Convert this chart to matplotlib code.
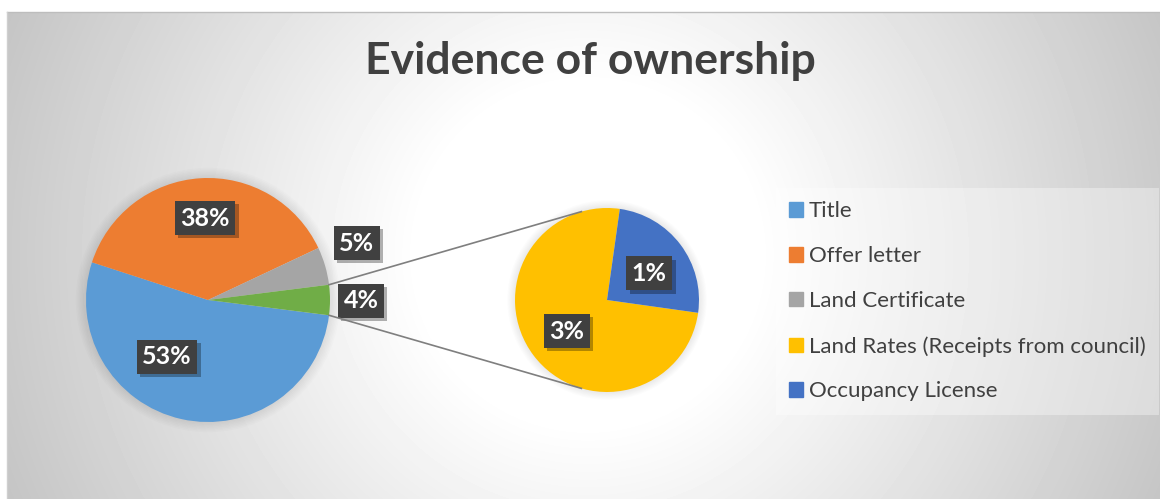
import numpy as np
import matplotlib
matplotlib.use("Agg")
import matplotlib.pyplot as plt
from matplotlib.patches import Circle, Patch
from matplotlib.lines import Line2D
import matplotlib.patheffects as pe

plt.rcParams["font.family"] = ["Lato", "DejaVu Sans"]

title = "Evidence of ownership"

# first pie: main categories, the last two are grouped into "Other"
main_labels = ["Title", "Offer letter", "Land Certificate"]
main_values = [53, 38, 5]
main_colors = ["#5B9BD5", "#ED7D31", "#A5A5A5"]

# second pie: breakdown of the grouped slice
sub_labels = ["Land Rates (Receipts from council)", "Occupancy License"]
sub_values = [3, 1]
sub_colors = ["#FFC000", "#4472C4"]
other_color = "#70AD47"

total = sum(main_values) + sum(sub_values)
other = sum(sub_values)

W, H = 1160, 499
fig = plt.figure(figsize=(W / 100, H / 100), dpi=100)
fig.patch.set_facecolor("white")

# chart area with a radial white-to-grey fill
x0, y0 = 7, 12
bg = fig.add_axes([x0 / W, 0, (W - x0) / W, (H - y0) / H])
gx, gy = np.meshgrid(np.arange(x0, W) + 0.5, np.arange(y0, H) + 0.5)
dist = np.hypot(gx - 588, gy - 255)
t = np.clip((dist - 170) / 460, 0, 1)
shade = 1 - t * (1 - 0.77)
bg.imshow(shade, cmap="gray", vmin=0, vmax=1, aspect="auto",
          extent=(0, 1, 0, 1), interpolation="bilinear")
bg.set_xlim(0, 1)
bg.set_ylim(0, 1)
bg.axis("off")
fig.add_artist(Line2D([x0 / W, 1], [1 - y0 / H, 1 - y0 / H],
                      color="#bdbdbd", lw=1, transform=fig.transFigure))
fig.add_artist(Line2D([x0 / W, x0 / W], [0, 1 - y0 / H],
                      color="#cfcfcf", lw=1, transform=fig.transFigure))

fig.text(590 / W, 1 - 61 / H, title, ha="center", va="center",
         fontsize=32, fontweight="bold", color="#404040")


def pie_axes(cx, cy, r):
    ax = fig.add_axes([(cx - r) / W, (H - cy - r) / H, 2 * r / W, 2 * r / H])
    ax.axis("off")
    # soft halo behind the pie
    for k in range(7):
        ax.add_patch(Circle((0, 0), 1 + 0.012 * (k + 1), color="black",
                            alpha=0.012, lw=0, zorder=0, clip_on=False))
    return ax


ax1 = pie_axes(208, 300, 122)
ax2 = pie_axes(607, 300, 92)

w1, _ = ax1.pie(main_values + [other], colors=main_colors + [other_color],
                startangle=-other / total * 360 / 2, counterclock=False,
                radius=1, wedgeprops=dict(lw=0))
w2, _ = ax2.pie(sub_values, colors=sub_colors, startangle=82,
                counterclock=True, radius=1, wedgeprops=dict(lw=0))
for ax in (ax1, ax2):
    ax.set_xlim(-1, 1)
    ax.set_ylim(-1, 1)
    ax.set_aspect("auto")

# data label placement (in pie radius units)
main_label_pos = [(-0.336, -0.467), (-0.025, 0.672), (1.221, 0.467), (1.254, -0.008)]
sub_label_pos = [(-0.435, -0.337), (0.457, 0.293)]


def data_label(ax, xy, value):
    txt = ax.text(xy[0], xy[1], f"{value / total * 100:.0f}%", ha="center",
                  va="center", fontsize=18, fontweight="bold", color="white",
                  zorder=5,
                  bbox=dict(boxstyle="square,pad=0.22", fc="#404040", lw=0))
    txt.get_bbox_patch().set_path_effects([
        pe.SimplePatchShadow(offset=(2.5, -2.5), shadow_rgbFace="black", alpha=0.3),
        pe.Normal()])


for xy, v in zip(main_label_pos, main_values + [other]):
    data_label(ax1, xy, v)
for xy, v in zip(sub_label_pos, sub_values):
    data_label(ax2, xy, v)

# connector lines: edges of the grouped slice, tangent to the second pie
other_wedge = w1[-1]
c2 = ax2.transData.transform((0, 0))
r2 = ax2.transData.transform((1, 0))[0] - c2[0]
to_fig = fig.transFigure.inverted()
for ang, side in [(other_wedge.theta2, 1), (other_wedge.theta1, -1)]:
    p = ax1.transData.transform((np.cos(np.radians(ang)), np.sin(np.radians(ang))))
    d = p - c2
    base = np.arctan2(d[1], d[0])
    phi = base - side * np.arccos(r2 / np.hypot(*d))
    q = c2 + r2 * np.array([np.cos(phi), np.sin(phi)])
    a, b = to_fig.transform(p), to_fig.transform(q)
    fig.add_artist(Line2D([a[0], b[0]], [a[1], b[1]], color="#7f7f7f", lw=1.2,
                          transform=fig.transFigure, zorder=3))

# legend
handles = [Patch(color=c) for c in main_colors + sub_colors]
leg = fig.legend(handles, main_labels + sub_labels, loc="upper left",
                 bbox_to_anchor=(776 / W, 1 - 188 / H), frameon=True,
                 fontsize=16, labelcolor="#404040", handlelength=0.62,
                 handleheight=0.62, handletextpad=0.25, labelspacing=1.12,
                 borderpad=0.6, borderaxespad=0, fancybox=False)
leg.get_frame().set_facecolor("white")
leg.get_frame().set_alpha(0.35)
leg.get_frame().set_linewidth(0)

fig.savefig("out.png", dpi=100)
